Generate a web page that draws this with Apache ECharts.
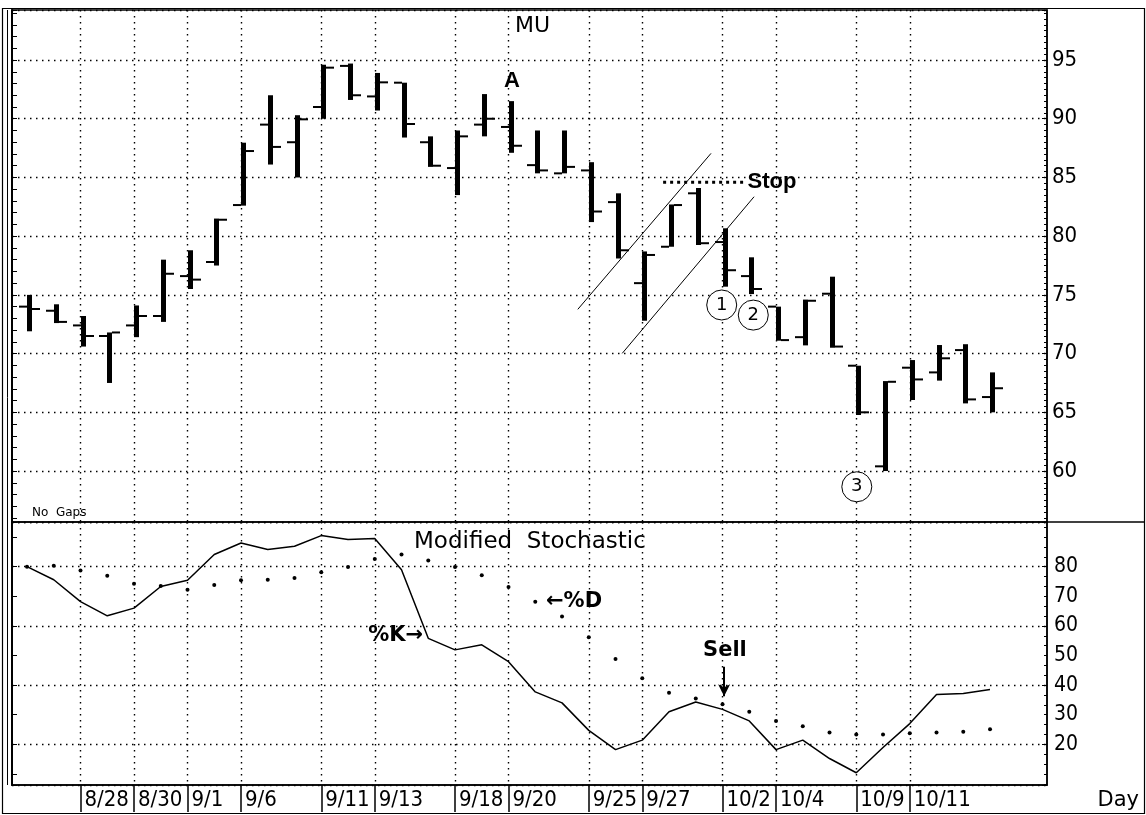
<!DOCTYPE html>
<html>
<head>
<meta charset="utf-8">
<title>MU - Modified Stochastic</title>
<script src="https://cdn.jsdelivr.net/npm/echarts@6/dist/echarts.min.js"></script>
<style>
  html, body { margin: 0; padding: 0; background: #fff; }
  #chart { width: 1146px; height: 815px; }
</style>
</head>
<body>
<div id="chart"></div>
<script>
// trading days, one bar per day (index = x position on both panels)
var days = ['8/24', '8/25', '8/28', '8/29', '8/30', '8/31', '9/1', '9/5', '9/6', '9/7',
    '9/8', '9/11', '9/12', '9/13', '9/14', '9/15', '9/18', '9/19', '9/20', '9/21',
    '9/22', '9/25', '9/26', '9/27', '9/28', '9/29', '10/2', '10/3', '10/4', '10/5',
    '10/6', '10/9', '10/10', '10/11', '10/12', '10/13', '10/16'];
// days that get a label box / vertical grid line
var dayTicks = [2, 4, 6, 8, 11, 13, 16, 18, 21, 23, 26, 28, 31, 33];

var open  = [74.0, 73.65, 72.4, 71.5, 72.4, 73.2, 76.6, 77.8, 82.65, 89.5,
    88.0, 91.0, 94.5, 91.9, 93.07, 88.0, 85.8, 89.5, 89.3, 86.05,
    85.35, 85.6, 82.9, 76.0, 79.1, 83.65, 79.5, 76.6, 74.0, 71.4,
    75.1, 68.97, 60.4, 68.8, 68.4, 70.3, 66.3];
var high  = [75.0, 74.2, 73.2, 71.8, 74.1, 78.0, 78.8, 81.5, 87.96, 92.0,
    90.3, 94.6, 94.7, 93.9, 93.07, 88.5, 89.0, 92.1, 91.5, 89.0,
    89.0, 86.3, 83.65, 78.7, 82.7, 84.1, 80.67, 78.2, 74.0, 74.6,
    76.55, 68.97, 67.66, 69.45, 70.73, 70.8, 68.4];
var low   = [71.9, 72.6, 70.6, 67.5, 71.4, 72.7, 75.5, 77.5, 82.6, 86.1,
    85.0, 90.0, 91.6, 90.7, 88.4, 85.9, 83.5, 88.5, 87.1, 85.35,
    85.35, 81.2, 78.1, 72.8, 79.1, 79.25, 75.7, 75.07, 71.1, 70.7,
    70.5, 64.77, 60.0, 66.05, 67.7, 65.76, 65.0];
var close = [73.8, 72.7, 71.5, 71.8, 73.2, 76.8, 76.3, 81.4, 87.25, 87.6,
    89.95, 94.35, 92.0, 93.1, 89.55, 86.0, 88.5, 90.0, 87.7, 85.6,
    85.9, 82.1, 78.8, 78.4, 82.65, 79.4, 77.1, 75.5, 71.15, 74.5,
    70.6, 65.0, 67.6, 67.8, 69.6, 66.1, 67.05];

var pctK = [80.0, 75.6, 68.2, 63.4, 66.0, 73.3, 75.4, 84.1, 88.0, 85.8,
    86.9, 90.5, 89.2, 89.5, 79.0, 55.8, 51.9, 53.6, 47.9, 37.7,
    34.0, 24.7, 18.2, 21.4, 31.0, 34.3, 31.8, 27.9, 18.2, 21.4,
    15.2, 10.4, 18.9, 27.0, 36.8, 37.2, 38.5];
var pctD = [80.0, 80.3, 78.7, 76.9, 74.2, 73.5, 72.2, 73.8, 75.4, 75.6,
    76.2, 78.1, 79.9, 82.6, 84.1, 82.1, 79.9, 77.1, 73.1, 68.2,
    63.2, 56.2, 48.8, 42.3, 37.4, 35.5, 33.5, 31.0, 27.9, 26.1,
    24.0, 23.3, 23.3, 23.7, 24.0, 24.2, 25.1];

var priceLabels = [60, 65, 70, 75, 80, 85, 90, 95];
var stochLabels = [20, 30, 40, 50, 60, 70, 80];

// drawn-in annotations, in data units [day index, value]
var channelTop = [[20.59, 73.77], [25.57, 87.05]];
var channelBottom = [[22.25, 70.02], [27.18, 83.36]];
var stopLine = [[23.78, 84.6], [26.77, 84.6]];
var circleMarks = [[25.97, 74.14, '1'], [27.15, 73.28, '2'], [31.02, 58.66, '3']];
var priceNotes = [[18.13, 93.21, 'A'], [27.85, 84.61, 'Stop']];
var stochNotes = [[13.78, 56.6, '%K\u2192'], [20.45, 68.2, '\u2190%D'], [26.09, 51.6, 'Sell']];
var sellArrow = [[26.06, 46.2], [26.06, 36.2]];

var X_MIN = -0.561, X_MAX = 38.13;
var P_MIN = 55.66, P_MAX = 99.26;
var S_MIN = 6.25, S_MAX = 95.1;

var chart = echarts.init(document.getElementById('chart'), null, { renderer: 'canvas' });

var dotted = { show: true, lineStyle: { color: '#000', width: 1.4, type: [1.5, 4.5] } };
var black = { color: '#000' };
var numFont = 'DejaVu Sans Condensed, DejaVu Sans, sans-serif';
var boldFont = 'Liberation Sans, Arial, DejaVu Sans, sans-serif';

var ohlc = days.map(function (d, i) {
    return [i, open[i], high[i], low[i], close[i]];
});

// bar: thick high-low stroke, open tick left, close tick right
function renderBar(params, api) {
    var x = api.value(0);
    var o = api.coord([x, api.value(1)]);
    var h = api.coord([x, api.value(2)]);
    var l = api.coord([x, api.value(3)]);
    var c = api.coord([x, api.value(4)]);
    var px = Math.round(h[0]);
    return {
        type: 'group',
        children: [
            { type: 'rect', shape: { x: px, y: h[1], width: 5, height: l[1] - h[1] }, style: { fill: '#000' } },
            { type: 'rect', shape: { x: px - 8, y: o[1] - 1, width: 8, height: 2 }, style: { fill: '#000' } },
            { type: 'rect', shape: { x: px + 5, y: c[1] - 1, width: 8, height: 2 }, style: { fill: '#000' } }
        ]
    };
}

function noteData(list) {
    return list.map(function (n) {
        return { value: [n[0], n[1]], label: { formatter: n[2] } };
    });
}

var option = {
    animation: false,
    backgroundColor: '#fff',
    grid: [
        { left: 12, top: 10, width: 1035, height: 512, show: true, borderColor: '#000', borderWidth: 1.5, outerBoundsMode: 'none' },
        { left: 12, top: 522, width: 1035, height: 263, show: true, borderColor: '#000', borderWidth: 1.5, outerBoundsMode: 'none' }
    ],
    xAxis: [
        {
            gridIndex: 0, type: 'value', min: X_MIN, max: X_MAX,
            axisLine: { show: false, onZero: false },
            axisTick: { show: false, customValues: dayTicks },
            axisLabel: { show: false },
            splitLine: dotted
        },
        {
            gridIndex: 1, type: 'value', min: X_MIN, max: X_MAX,
            axisLine: { show: true, onZero: false, lineStyle: { color: '#000', width: 1.5 } },
            axisTick: { show: true, customValues: dayTicks, inside: false, length: 27, lineStyle: { color: '#000', width: 1.5 } },
            axisLabel: {
                customValues: dayTicks,
                formatter: function (v) { return days[Math.round(v)]; },
                align: 'left', verticalAlign: 'middle', padding: [0, 0, 0, 4], margin: 15,
                fontFamily: numFont, fontSize: 22, color: '#000'
            },
            splitLine: dotted
        }
    ],
    yAxis: [
        {
            gridIndex: 0, type: 'value', position: 'left', min: P_MIN, max: P_MAX, splitNumber: 40,
            axisLine: { show: true, onZero: false, lineStyle: { color: '#000', width: 2 } },
            axisTick: { show: true, inside: true, length: 5, lineStyle: black },
            axisLabel: { show: false },
            splitLine: { show: false }
        },
        {
            gridIndex: 0, type: 'value', position: 'right', min: P_MIN, max: P_MAX, splitNumber: 8,
            axisLine: { show: true, onZero: false, lineStyle: { color: '#000', width: 1.5 } },
            axisTick: { show: true, inside: true, length: 5, lineStyle: black },
            minorTick: { show: true, splitNumber: 10, length: 3, lineStyle: black },
            axisLabel: { customValues: priceLabels, margin: 5, fontFamily: numFont, fontSize: 22, color: '#000' },
            splitLine: dotted
        },
        {
            gridIndex: 1, type: 'value', position: 'left', min: S_MIN, max: S_MAX, splitNumber: 9,
            axisLine: { show: true, onZero: false, lineStyle: { color: '#000', width: 2 } },
            axisTick: { show: true, inside: true, length: 5, lineStyle: black },
            axisLabel: { show: false },
            splitLine: { show: false }
        },
        {
            gridIndex: 1, type: 'value', position: 'right', min: S_MIN, max: S_MAX, splitNumber: 5,
            axisLine: { show: true, onZero: false, lineStyle: { color: '#000', width: 1.5 } },
            axisTick: { show: true, inside: true, length: 5, lineStyle: black },
            minorTick: { show: true, splitNumber: 6, length: 3, lineStyle: black },
            axisLabel: { customValues: stochLabels, margin: 7, fontFamily: numFont, fontSize: 21, color: '#000' },
            splitLine: dotted
        }
    ],
    graphic: [
        { type: 'rect', silent: true, shape: { x: 2.5, y: 8.5, width: 1142, height: 805 }, style: { fill: 'none', stroke: '#000', lineWidth: 1.2 } },
        { type: 'line', silent: true, shape: { x1: 7.5, y1: 10, x2: 7.5, y2: 785 }, style: { stroke: '#000', lineWidth: 1 } },
        { type: 'line', silent: true, shape: { x1: 1047, y1: 522, x2: 1145, y2: 522 }, style: { stroke: '#000', lineWidth: 1.5 } },
        { type: 'text', silent: true, x: 515, y: 26, style: { text: 'MU', font: '22px DejaVu Sans', fill: '#000', verticalAlign: 'middle' } },
        { type: 'text', silent: true, x: 414, y: 542, style: { text: 'Modified  Stochastic', font: '23px DejaVu Sans', fill: '#000', verticalAlign: 'middle' } },
        { type: 'text', silent: true, x: 32, y: 513, style: { text: 'No  Gaps', font: '12px DejaVu Sans', fill: '#000', verticalAlign: 'middle' } },
        { type: 'text', silent: true, x: 1139, y: 801, style: { text: 'Day', font: '21px DejaVu Sans', fill: '#000', align: 'right', verticalAlign: 'middle' } }
    ],
    series: [
        {
            name: 'MU', type: 'custom', xAxisIndex: 0, yAxisIndex: 1,
            renderItem: renderBar, clip: true,
            encode: { x: 0, y: [1, 2, 3, 4] },
            data: ohlc
        },
        {
            type: 'line', xAxisIndex: 0, yAxisIndex: 1, data: channelTop,
            showSymbol: false, lineStyle: { color: '#000', width: 1 }
        },
        {
            type: 'line', xAxisIndex: 0, yAxisIndex: 1, data: channelBottom,
            showSymbol: false, lineStyle: { color: '#000', width: 1 }
        },
        {
            type: 'line', xAxisIndex: 0, yAxisIndex: 1, data: stopLine,
            showSymbol: false, lineStyle: { color: '#000', width: 3, type: [3, 4] }
        },
        {
            type: 'scatter', xAxisIndex: 0, yAxisIndex: 1,
            data: circleMarks.map(function (c) { return { value: [c[0], c[1]], label: { formatter: c[2] } }; }),
            symbol: 'circle', symbolSize: 30,
            itemStyle: { color: '#fff', borderColor: '#000', borderWidth: 1, opacity: 1 },
            label: { show: true, position: 'inside', color: '#000', textBorderWidth: 0, fontSize: 18, fontFamily: 'DejaVu Sans' }
        },
        {
            type: 'scatter', xAxisIndex: 0, yAxisIndex: 1, data: noteData(priceNotes),
            symbolSize: 1, itemStyle: { color: '#fff', opacity: 1 },
            label: { show: true, position: 'inside', color: '#000', textBorderWidth: 0, fontSize: 22, fontWeight: 'bold', fontFamily: boldFont }
        },
        {
            name: '%K', type: 'line', xAxisIndex: 1, yAxisIndex: 3,
            data: pctK.map(function (v, i) { return [i, v]; }),
            showSymbol: false, lineStyle: { color: '#000', width: 1.5 },
            markLine: {
                silent: true, symbol: ['none', 'arrow'], symbolSize: [9, 12],
                label: { show: false },
                lineStyle: { color: '#000', width: 2, type: 'solid' },
                data: [[{ coord: sellArrow[0] }, { coord: sellArrow[1] }]]
            }
        },
        {
            name: '%D', type: 'scatter', xAxisIndex: 1, yAxisIndex: 3,
            data: pctD.map(function (v, i) { return [i, v]; }),
            symbolSize: 4, itemStyle: { color: '#000', opacity: 1 }
        },
        {
            type: 'scatter', xAxisIndex: 1, yAxisIndex: 3, data: noteData(stochNotes),
            symbolSize: 1, itemStyle: { color: '#fff', opacity: 1 },
            label: { show: true, position: 'inside', color: '#000', textBorderWidth: 0, fontSize: 21, fontWeight: 'bold', fontFamily: 'DejaVu Sans, sans-serif' }
        }
    ]
};

chart.setOption(option);

window.addEventListener('resize', function () {
    chart.resize();
});
</script>
</body>
</html>
